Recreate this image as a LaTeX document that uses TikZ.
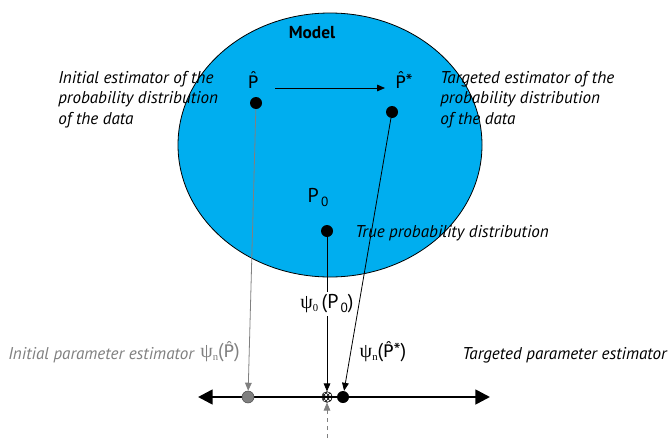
\documentclass[tikz,border=0pt]{standalone}
\usepackage{fontspec}
\setmainfont{PT Sans}
\newfontfamily\grk{Liberation Serif}
\newfontfamily\hatfont{DejaVu Sans}
\usetikzlibrary{arrows.meta,patterns}
\definecolor{modelblue}{RGB}{0,174,239}
\definecolor{initgray}{RGB}{128,128,128}
\tikzset{
  estdot/.style={circle, fill=black, minimum size=9pt, inner sep=0pt},
  estlabel/.style={font=\fontsize{15}{17}\selectfont, inner sep=1pt},
  desc/.style={font=\fontsize{12.8}{15.4}\selectfont\itshape, align=left, inner sep=0pt},
  mapedge/.style={-{Triangle[length=6pt,width=5pt]}, line width=0.6pt},
  axisedge/.style={{Triangle[length=11pt,width=11pt]}-{Triangle[length=11pt,width=11pt]}, line width=2pt}
}
\newcommand{\hatP}{{\hatfont\fontsize{13}{15}\selectfont P̂}}
\newcommand{\subz}{\raisebox{-3pt}{\fontsize{10}{10}\selectfont\,0}}
\newcommand{\psin}{{\grk\symbol{"03C8}}\raisebox{-2pt}{\grk\fontsize{8}{8}\selectfont n}}
\newcommand{\psizero}{{\grk\symbol{"03C8}}\raisebox{-2pt}{\grk\fontsize{8}{8}\selectfont 0}}
\begin{document}
\begin{tikzpicture}[x=0.75pt, y=-0.75pt]
  \useasboundingbox (0,0) rectangle (670,439);

  % model
  \draw[fill=modelblue, line width=0.6pt] (330,145) ellipse (152 and 132);
  \node[font=\fontsize{13}{15}\selectfont\bfseries] (model) at (312,33) {Model};

  % distributions
  \node[estdot] (phat) at (256,103) {};
  \node[estlabel] (phatlab) at (253,80) {\hatP};
  \node[estdot] (pstar) at (392,112) {};
  \node[estlabel] (pstarlab) at (404,80) {\hatP*};
  \node[estdot] (pzero) at (327,231) {};
  \node[estlabel] (pzerolab) at (318,197) {P\subz};

  \coordinate (tgtstart) at (275,88);
  \coordinate (tgtend) at (385,88);
  \draw[mapedge] (tgtstart) -- (tgtend);

  \node[desc, anchor=north west] (initdesc) at (58,71) {Initial estimator of the\\probability distribution\\of the data};
  \node[desc, anchor=north west] (tgtdesc) at (440,71) {Targeted estimator of the\\probability distribution\\of the data};
  \node[desc, anchor=west] (truedesc) at (355,233) {True probability distribution};

  % parameter axis
  \coordinate (axl) at (198,397);
  \coordinate (axr) at (490,397);
  \draw[axisedge] (axl) -- (axr);

  \node[circle, draw=black!70, fill=initgray, minimum size=9pt, inner sep=0pt] (psiinit) at (248,397) {};
  \node[estdot] (psitgt) at (343,397) {};
  \node[circle, draw=black, fill=white, pattern=crosshatch, minimum size=8pt, inner sep=0pt, line width=0.4pt] (psitrue) at (327,397) {};

  % mappings
  \draw[mapedge, draw=initgray, -{Triangle[length=6pt,width=5pt,fill=initgray]}] (phat) -- (psiinit);
  \draw[mapedge] (pstar) -- (psitgt);
  \draw[mapedge] (pzero) -- node[estlabel, fill=white, pos=0.43, inner sep=2pt] (psizerolab) {\psizero\,(P\subz)} (psitrue);
  \coordinate (trueorigin) at (327,438);
  \draw[mapedge, draw=initgray, dashed, -{Triangle[length=6pt,width=5pt,fill=initgray]}] (trueorigin) -- (psitrue);

  \node[estlabel, text=initgray] (psiinitlab) at (220,352) {\psin(\hatP)};
  \node[estlabel] (psitgtlab) at (383,352) {\psin(\hatP*)};
  \node[desc, anchor=west, text=initgray] (initparam) at (8,355) {Initial parameter estimator};
  \node[desc, anchor=west] (tgtparam) at (462,355) {Targeted parameter estimator};
\end{tikzpicture}
\end{document}
